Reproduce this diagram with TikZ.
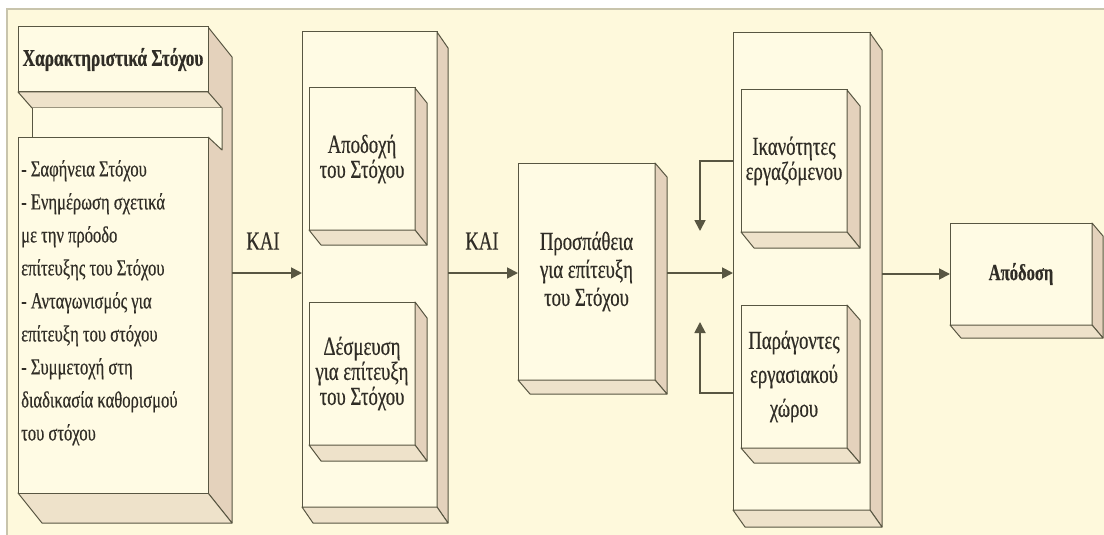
\documentclass[tikz,border=0pt]{standalone}
\usepackage{fontspec}
\setmainfont{Liberation Serif}
\newfontfamily\gk[FakeStretch=0.72,FakeBold=0.5]{Liberation Serif}
\usetikzlibrary{arrows.meta,calc}

\definecolor{paper}{RGB}{254,249,220}
\definecolor{face}{RGB}{255,251,228}
\definecolor{sideface}{RGB}{228,210,188}
\definecolor{bottomface}{RGB}{238,226,202}
\definecolor{ink}{RGB}{88,86,66}
\definecolor{rim}{RGB}{200,196,172}
\definecolor{lettering}{RGB}{48,45,38}

\tikzset{
  front/.style={draw=ink, line width=1pt, fill=face, inner sep=0pt, outer sep=0pt,
    align=center, text=lettering, font=\gk\fontsize{26}{25}\selectfont},
  sidef/.style={draw=ink, line width=1pt, fill=sideface, line join=round},
  bottomf/.style={draw=ink, line width=1pt, fill=bottomface, line join=round},
  edge/.style={draw=ink, line width=1pt},
  flow/.style={draw=ink, line width=1.8pt, -{Triangle[length=11pt,width=11pt]}},
  conj/.style={inner sep=0pt, text=lettering, font=\gk\fontsize{26}{26}\selectfont},
}

% a block with its front face as a node, plus right and bottom faces
% [options]{name}{x1}{y1}{x2}{y2}{dx}{dy}{text}
\newcommand\cuboidbox[9][]{%
  \node[front, minimum width={#5-#3}, minimum height={#6-#4}, #1] (#2)
    at ({(#3+#5)/2},{(#4+#6)/2}) {#9};
  \draw[sidef] (#2.north east) -- ++(#7,#8) -- ($(#2.south east)+(#7,#8)$)
    -- (#2.south east) -- cycle;
  \draw[bottomf] (#2.south west) -- (#2.south east) -- ++(#7,#8)
    -- ($(#2.south west)+(#7,#8)$) -- cycle;
}

\begin{document}
\begin{tikzpicture}[x=1pt,y=-1pt]
\useasboundingbox (0,0) rectangle (1104,535);
\fill[white] (0,0) rectangle (1104,535);
\fill[paper] (7,9) rectangle (1104,535);
\draw[rim, line width=1.5pt] (7,535) -- (7,9) -- (1104,9);

% ---- goal characteristics block ----
\cuboidbox[draw=none, fill=none]{b1}{18}{27}{208}{493}{24}{30}{}
\node[front, minimum width=190, minimum height=65,
  font=\gk\bfseries\fontsize{24}{26}\selectfont] (hd) at (113,59.5) {Χαρακτηριστικά Στόχου};
\draw[bottomf] (hd.south west) -- (hd.south east) -- ++(14,16)
  -- ($(hd.south west)+(14,16)$) -- cycle;
\coordinate (n1) at ($(hd.south west)+(14,16)$);
\coordinate (n2) at ($(hd.south east)+(14,16)$);
\coordinate (n3) at ($(hd.south east)+(14,58)$);
\coordinate (n4) at ($(hd.south east)+(0,45)$);
\coordinate (n5) at ($(hd.south west)+(14,45)$);
\fill[face] (n1) -- (n2) -- (n3) -- (n4) -- (n5) -- cycle;
\draw[edge] (n1) -- (n5);
\draw[edge, line join=round] (n2) -- (n3) -- (n4);
\node[front, minimum width=190, minimum height=356] (lst) at (113,315) {};
\node[anchor=north west, inner sep=0pt, align=left, text=lettering,
  font=\gk\fontsize{23}{33}\selectfont] (items) at ($(lst.north west)+(3,23)$)
  {- Σαφήνεια Στόχου\\
   - Ενημέρωση σχετικά\\
   με την πρόοδο\\
   επίτευξης του Στόχου\\
   - Ανταγωνισμός για\\
   επίτευξη του στόχου\\
   - Συμμετοχή στη\\
   διαδικασία καθορισμού\\
   του στόχου};

% ---- acceptance and commitment block ----
\cuboidbox{b2}{302}{32}{437}{507}{11}{16}{}
\cuboidbox{acc}{309}{88}{415}{230}{12}{15}{Αποδοχή\\του Στόχου}
\cuboidbox{com}{309}{302}{415}{445}{12}{16}{Δέσμευση\\για επίτευξη\\του Στόχου}

% ---- effort block ----
\cuboidbox[font=\gk\fontsize{26}{28}\selectfont]{b3}{518}{163}{655}{380}{12}{14}{Προσπάθεια\\για επίτευξη\\του Στόχου}

% ---- moderators block ----
\cuboidbox{b4}{733}{33}{870}{510}{12}{17}{}
\cuboidbox{abl}{741}{90}{847}{232}{13}{16}{Ικανότητες\\εργαζόμενου}
\cuboidbox[font=\gk\fontsize{26}{34}\selectfont]{wrk}{741}{305}{847}{448}{13}{15}{Παράγοντες\\εργασιακού\\χώρου}

% ---- outcome ----
\cuboidbox[font=\gk\bfseries\fontsize{23}{24}\selectfont]{ap}{950}{223}{1092}{325}{11}{13}{Απόδοση}

% ---- connectors ----
\coordinate (lvl) at (0,273);
\coordinate (fb) at (0,393);
\draw[flow] ($(b1.east |- lvl)+(24,0)$) -- (b2.west |- lvl);
\node[conj] (k1) at (263,241) {ΚΑΙ};
\draw[flow] ($(b2.east |- lvl)+(11,0)$) -- (b3.west |- lvl);
\node[conj] (k2) at (482,241) {ΚΑΙ};
\draw[flow] ($(b3.east |- lvl)+(12,0)$) -- (b4.west |- lvl);
\draw[flow] (b4.west |- abl) -| ++(-33,70);
\draw[flow] (b4.west |- fb) -| ++(-33,-71);
\draw[flow] ($(b4.east |- ap)+(12,0)$) -- (ap.west);
\end{tikzpicture}
\end{document}
